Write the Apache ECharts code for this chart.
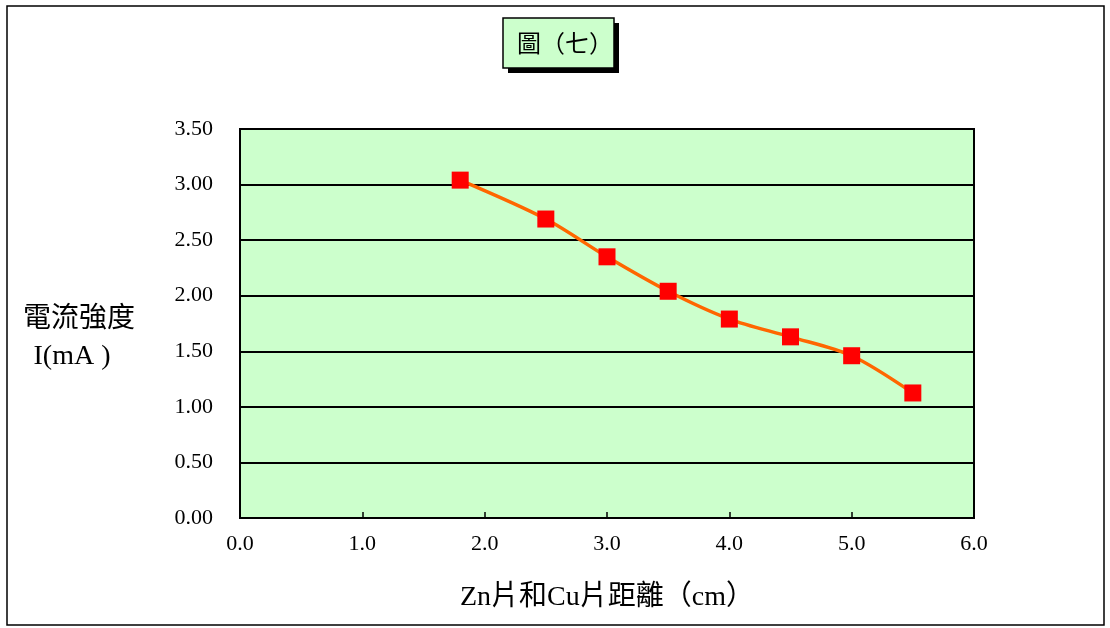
<!DOCTYPE html>
<html>
<head>
<meta charset="utf-8">
<script src="https://cdn.jsdelivr.net/npm/echarts@6/dist/echarts.min.js"></script>
<style>
html,body{margin:0;padding:0;background:#fff;}
#c{width:1110px;height:628px;}
</style>
</head>
<body>
<div id="c"></div>
<script>
const distances = [1.8, 2.5, 3.0, 3.5, 4.0, 4.5, 5.0, 5.5];
const currents = [3.04, 2.69, 2.35, 2.04, 1.79, 1.63, 1.46, 1.125];
const titleText = '圖（七）';
const yLabelLine1 = '電流強度';
const yLabelLine2 = 'I(mA )';
const xLabelText = 'Zn片和Cu片距離（cm）';

const chart = echarts.init(document.getElementById('c'));
const serif = '"Liberation Serif", "Noto Sans CJK TC", serif';
chart.setOption({
  backgroundColor: '#fff',
  animation: false,
  grid: {
    left: 240, right: 136, top: 129, bottom: 110,
    show: true, backgroundColor: '#CCFFCC', borderColor: '#000', borderWidth: 2
  },
  xAxis: {
    type: 'value', min: 0, max: 6, interval: 1,
    axisLine: {show: true, onZero: false, lineStyle: {color: '#000', width: 2}},
    axisTick: {show: true, inside: true, length: 6, lineStyle: {color: '#000', width: 1.5}},
    splitLine: {show: false},
    axisLabel: {formatter: v => v.toFixed(1), color: '#000', fontFamily: serif, fontSize: 22, margin: 15}
  },
  yAxis: {
    type: 'value', min: 0, max: 3.5, interval: 0.5,
    axisLine: {show: true, lineStyle: {color: '#000', width: 2}},
    axisTick: {show: false},
    splitLine: {show: true, lineStyle: {color: '#000', width: 2}},
    axisLabel: {formatter: v => v.toFixed(2), color: '#000', fontFamily: serif, fontSize: 22, margin: 27}
  },
  series: [{
    type: 'line',
    data: distances.map((d, i) => [d, currents[i]]),
    smooth: 0.3,
    lineStyle: {color: '#FF6600', width: 3.5},
    symbol: 'rect', symbolSize: 17,
    itemStyle: {color: '#FF0000', borderWidth: 0},
    z: 5
  }],
  graphic: [
    {type: 'rect', shape: {x: 7, y: 6, width: 1097, height: 619}, style: {fill: 'none', stroke: '#000', lineWidth: 1.5}, silent: true},
    {type: 'rect', shape: {x: 508, y: 23, width: 111, height: 50}, style: {fill: '#000'}},
    {type: 'rect', shape: {x: 503, y: 18, width: 111, height: 50}, style: {fill: '#CCFFCC', stroke: '#000', lineWidth: 1.5}},
    {type: 'text', x: 565, y: 43, style: {text: titleText, fill: '#000', font: '24px "Noto Sans CJK TC", serif', textAlign: 'center', textVerticalAlign: 'middle'}},
    {type: 'text', x: 79, y: 316, style: {text: yLabelLine1, fill: '#000', font: '28px "Noto Sans CJK TC", serif', textAlign: 'center', textVerticalAlign: 'middle'}},
    {type: 'text', x: 72, y: 357, style: {text: yLabelLine2, fill: '#000', font: '28px "Liberation Serif", serif', textAlign: 'center', textVerticalAlign: 'middle'}},
    {type: 'text', x: 607, y: 598, style: {text: xLabelText, fill: '#000', font: '28px "Liberation Serif", "Noto Sans CJK TC", serif', textAlign: 'center', textVerticalAlign: 'middle'}}
  ]
});
</script>
</body>
</html>
